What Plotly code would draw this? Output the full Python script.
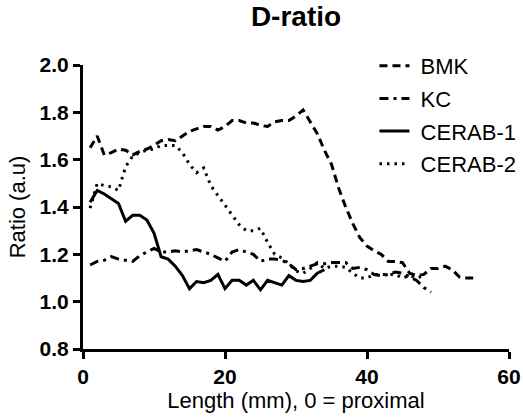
import plotly.graph_objects as go

bmk_x = list(range(1, 56))
bmk_y = [1.65, 1.70, 1.62, 1.63, 1.645, 1.64, 1.62, 1.635, 1.645, 1.66,
         1.68, 1.685, 1.68, 1.70, 1.72, 1.73, 1.74, 1.74, 1.725, 1.74,
         1.765, 1.765, 1.755, 1.755, 1.745, 1.74, 1.76, 1.765, 1.765, 1.785,
         1.81, 1.76, 1.71, 1.64, 1.58, 1.48, 1.40, 1.33, 1.27, 1.235,
         1.215, 1.20, 1.17, 1.17, 1.165, 1.12, 1.11, 1.115, 1.14, 1.14,
         1.15, 1.135, 1.105, 1.10, 1.10]

kc_x = list(range(1, 50))
kc_y = [1.155, 1.17, 1.175, 1.19, 1.18, 1.175, 1.17, 1.195, 1.21, 1.225,
        1.21, 1.21, 1.215, 1.21, 1.215, 1.22, 1.21, 1.20, 1.185, 1.17,
        1.21, 1.22, 1.21, 1.20, 1.17, 1.18, 1.18, 1.175, 1.16, 1.135,
        1.14, 1.15, 1.16, 1.16, 1.165, 1.165, 1.165, 1.14, 1.145, 1.135,
        1.115, 1.11, 1.115, 1.125, 1.12, 1.105, 1.09, 1.06, 1.04]

cerab1_x = list(range(1, 35))
cerab1_y = [1.42, 1.47, 1.455, 1.435, 1.415, 1.34, 1.365, 1.365, 1.345, 1.29,
            1.19, 1.18, 1.15, 1.11, 1.055, 1.085, 1.08, 1.09, 1.115, 1.055,
            1.09, 1.09, 1.07, 1.09, 1.05, 1.09, 1.08, 1.07, 1.11, 1.09,
            1.085, 1.09, 1.12, 1.135]

cerab2_x = list(range(1, 49))
cerab2_y = [1.395, 1.50, 1.49, 1.485, 1.47, 1.57, 1.615, 1.63, 1.64, 1.645,
            1.66, 1.66, 1.66, 1.63, 1.58, 1.545, 1.565, 1.49, 1.45, 1.41,
            1.37, 1.325, 1.30, 1.30, 1.31, 1.25, 1.20, 1.185, 1.16, 1.13,
            1.12, 1.14, 1.165, 1.14, 1.15, 1.15, 1.145, 1.12, 1.10, 1.10,
            1.115, 1.115, 1.115, 1.115, 1.10, 1.11, 1.10, 1.11]

x_ticks = [0, 20, 40, 60]
y_ticks = [0.8, 1.0, 1.2, 1.4, 1.6, 1.8, 2.0]
y_tick_labels = ["0.8", "1.0", "1.2", "1.4", "1.6", "1.8", "2.0"]

FONT = "Liberation Sans, Arial, sans-serif"

series = [
    ("BMK", bmk_x, bmk_y, "8px,5px"),
    ("KC", kc_x, kc_y, "9px,5px,3px,5px"),
    ("CERAB-1", cerab1_x, cerab1_y, "solid"),
    ("CERAB-2", cerab2_x, cerab2_y, "2.5px,5px"),
]

fig = go.Figure()
for name, xs, ys, dash in series:
    fig.add_trace(go.Scatter(
        x=xs, y=ys, mode="lines", name="\u00a0" + name, legendgroup=name,
        line=dict(color="black", width=3, dash=dash),
    ))

fig.update_layout(
    width=523, height=417,
    margin=dict(l=83, r=14, t=65, b=68, autoexpand=False),
    paper_bgcolor="white", plot_bgcolor="white",
    font=dict(family=FONT, color="black"),
    title=dict(text="<b>D-ratio</b>", x=0.566, xanchor="center",
               y=0.96, yanchor="middle",
               font=dict(size=28, family=FONT, color="black")),
    showlegend=True,
    legend=dict(xref="container", yref="container",
                x=0.716, xanchor="left", y=0.892, yanchor="top",
                bgcolor="rgba(0,0,0,0)", font=dict(size=22, family=FONT),
                tracegroupgap=1, itemwidth=30),
    xaxis=dict(range=[0, 60], tickvals=x_ticks, ticktext=[str(v) for v in x_ticks],
               showline=True, linecolor="black", linewidth=3,
               ticks="outside", ticklen=7, tickwidth=3, tickcolor="black",
               showgrid=False, zeroline=False, automargin=False,
               tickfont=dict(size=21, family=FONT, weight="bold"),
               title=dict(text="Length (mm), 0 = proximal", standoff=6,
                          font=dict(size=22, family=FONT))),
    yaxis=dict(range=[0.8, 2.0], tickvals=y_ticks, ticktext=y_tick_labels,
               showline=True, linecolor="black", linewidth=3,
               ticks="outside", ticklen=7, tickwidth=3, tickcolor="black",
               showgrid=False, zeroline=False, automargin=False,
               tickfont=dict(size=21, family=FONT, weight="bold"),
               title=dict(text="Ratio (a.u)", standoff=8,
                          font=dict(size=22, family=FONT))),
)

fig.write_html("out.html",
               config={"displayModeBar": False},
               post_script="document.body.style.margin='0';document.body.style.overflow='hidden';")
